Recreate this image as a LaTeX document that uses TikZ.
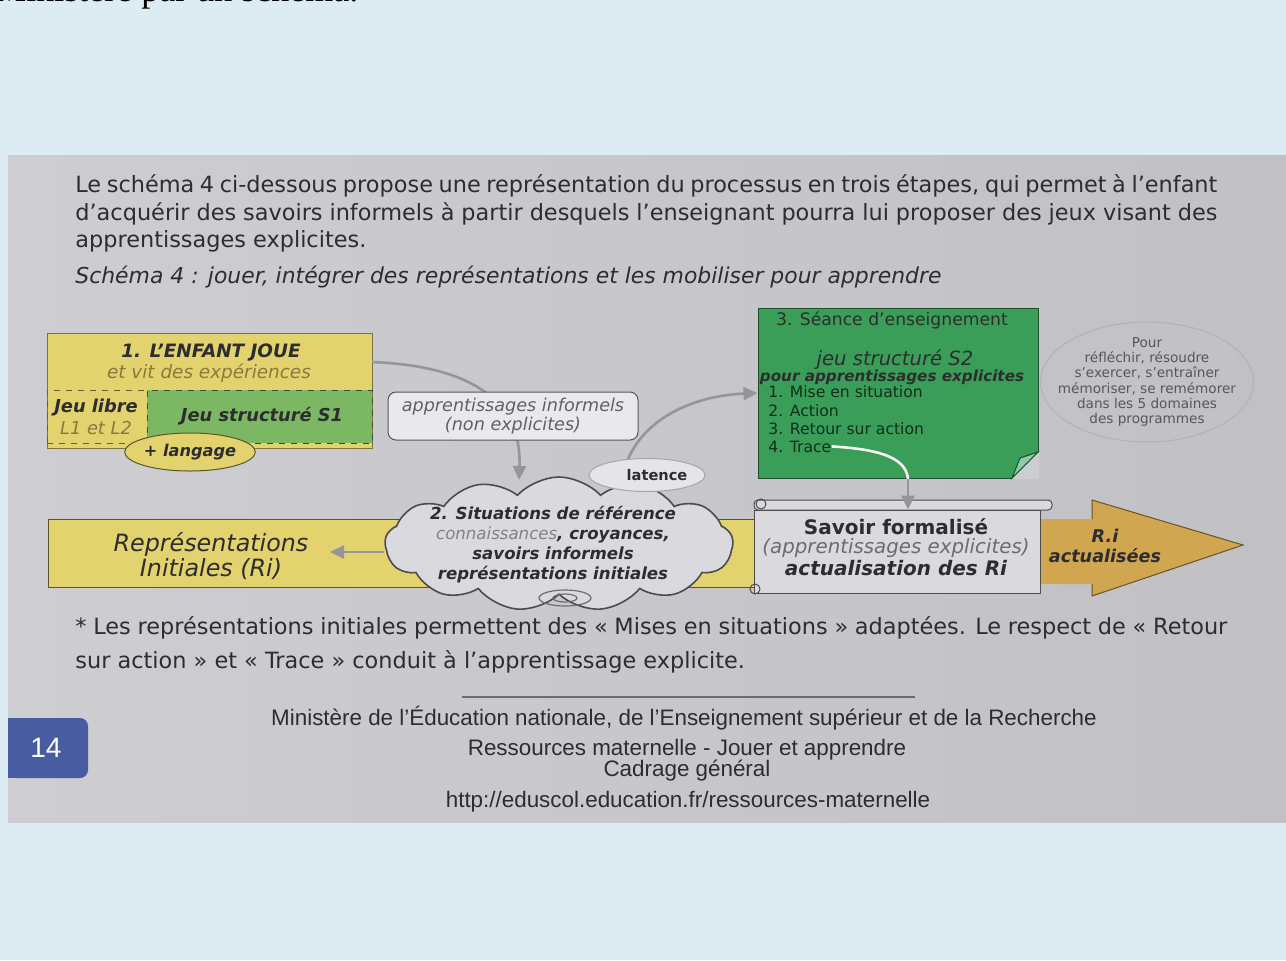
\documentclass[tikz,border=0pt]{standalone}
\usepackage{fontspec}
\setmainfont{Liberation Sans}
\newfontfamily\seriffont{Liberation Serif}
\newfontfamily\diagfont{DejaVu Sans}
\newfontfamily\corpsfont{DejaVu Sans}
\usetikzlibrary{shapes.symbols}
\usetikzlibrary{shapes.geometric}
\usetikzlibrary{arrows.meta}

\definecolor{fond}{RGB}{221,236,243}
\definecolor{pageg}{RGB}{206,206,210}
\definecolor{paged}{RGB}{192,192,197}
\definecolor{jaune}{RGB}{226,211,110}
\definecolor{vertclair}{RGB}{124,184,100}
\definecolor{vertfonce}{RGB}{58,158,88}
\definecolor{orarrow}{RGB}{208,166,80}
\definecolor{encre}{RGB}{45,45,48}
\definecolor{brun}{RGB}{140,120,60}
\definecolor{nuagegris}{RGB}{218,218,222}
\definecolor{flechegris}{RGB}{150,150,154}
\definecolor{bleutab}{RGB}{72,92,162}

\newcommand{\taille}[2]{\fontsize{#1}{#2}\selectfont}

\begin{document}
\begin{tikzpicture}[x=0.5pt, y=-0.5pt,
    txt/.style={inner sep=0pt, text=encre},
    dr/.style={txt, font=\diagfont\taille{#1}{10}},
    di/.style={txt, font=\diagfont\itshape\taille{#1}{10}},
    db/.style={txt, font=\diagfont\bfseries\taille{#1}{10}},
    dbi/.style={txt, font=\diagfont\bfseries\itshape\taille{#1}{10}},
    corps/.style={txt, anchor=base west, font=\corpsfont\taille{11.2}{14}},
    fleche/.style={draw=flechegris, line width=1.3pt, -{Triangle[length=7pt, width=6.5pt]}},
    boite/.style={draw=#1, line width=0.5pt, inner sep=0pt},
  ]
    \useasboundingbox (0,0) rectangle (1286,960);
    \fill[fond] (0,0) rectangle (1286,960);
    \shade[left color=pageg, right color=paged] (8,155) rectangle (1286,822);

    \node[txt, text=black, anchor=base west, font=\seriffont\taille{18}{20}] (haut) at (-6,1) {Ministère par un schéma.};

    % texte d'introduction
    \node[corps] (ligne1) at (75,192)
        {\makebox[571pt][s]{Le schéma 4 ci-dessous propose une représentation du processus en trois étapes, qui permet à l’enfant}};
    \node[corps] (ligne2) at (75,220)
        {\makebox[571pt][s]{d’acquérir des savoirs informels à partir desquels l’enseignant pourra lui proposer des jeux visant des}};
    \node[corps] (ligne3) at (75,247) {apprentissages explicites.};
    \node[corps, font=\corpsfont\itshape\taille{10.95}{14}] (legende) at (75,283)
        {Schéma 4 : jouer, intégrer des représentations et les mobiliser pour apprendre};

    % 1. l'enfant joue
    \node[boite=jaune!55!black, fill=jaune, minimum width=162.5pt, minimum height=57.5pt] (enfant) at (209.5,390.5) {};
    \node[dbi=9.2] (titre1) at (211,353) {1. L’ENFANT JOUE};
    \node[di=9.2, text=brun] (vecu) at (209,373) {et vit des expériences};
    \node[boite=jaune!45!black, dashed, minimum width=50pt, minimum height=26.5pt] (libre) at (97,416.5) {};
    \node[boite=vertclair!45!black, dashed, fill=vertclair, minimum width=112.5pt, minimum height=26.5pt] (s1) at (259.5,416.5) {};
    \node[dbi=8.9] (jeulibre) at (96,408) {Jeu libre};
    \node[di=8.9, text=brun] (langues) at (96,428) {L1 et L2};
    \node[dbi=8.9] (structure1) at (262,416) {Jeu structuré S1};
    \node[ellipse, boite=jaune!40!black, fill=jaune, minimum width=60pt, minimum height=19pt,
          dbi=8.1] (langage) at (190,452) {+ langage};

    % fleches grises
    \coordinate (depart1) at (372,362);
    \coordinate (arrivee1) at (519,480);
    \draw[fleche] (depart1) .. controls (470,366) and (522,400) .. (arrivee1);

    \node[boite=encre!80, rounded corners=4pt, fill=nuagegris!60!white, minimum width=125pt, minimum height=24pt,
          txt, text=encre!75, align=center, font=\diagfont\itshape\taille{8.8}{8.2}] (informels) at (513,416)
          {apprentissages informels\\(non explicites)};

    % bande jaune et fleche doree
    \node[boite=jaune!40!black, fill=jaune, minimum width=496pt, minimum height=34pt] (bande) at (544,553) {};
    \fill[orarrow] (1040,519) -- (1092,519) -- (1092,500) -- (1243,545) -- (1092,596) -- (1092,584) -- (1040,584) -- cycle;
    \draw[orarrow!50!black, line width=0.5pt] (1092,519) -- (1092,500) -- (1243,545) -- (1092,596) -- (1092,584);
    \node[txt, align=center, font=\diagfont\bfseries\itshape\taille{8.8}{10}] (actualisees) at (1105,546) {R.i\\actualisées};
    \node[txt, align=center, font=\diagfont\itshape\taille{11.9}{12.5}] (represent) at (211,556) {Représentations\\Initiales (Ri)};

    % 2. situations de reference
    \node[cloud, cloud puffs=13, cloud puff arc=95, cloud ignores aspect, boite=encre!85, line width=0.8pt,
          fill=nuagegris, minimum width=174pt, minimum height=67pt] (nuage) at (559,544) {};
    \node[txt, align=center, font=\diagfont\bfseries\itshape\taille{8.3}{10}] (situations) at (553,545)
        {2. Situations de référence\\{\mdseries\color{encre!60}connaissances}, croyances,\\savoirs informels\\représentations initiales};
    \node[ellipse, boite=gray!70, fill=nuagegris!70!white, minimum width=58pt, minimum height=16.5pt,
          db=7.3] (latence) at (647,475) {\hspace*{10pt}latence};
    \draw[encre!70, line width=0.6pt] (565,598) ellipse [x radius=13pt, y radius=4pt];
    \draw[encre!70, line width=0.6pt] (565,598) ellipse [x radius=6pt, y radius=2pt];

    \coordinate (pointe) at (330,552);
    \draw[fleche] (nuage.west |- pointe) -- (pointe);

    % 3. seance d'enseignement
    \node[boite=vertfonce!50!black, fill=vertfonce, minimum width=140pt, minimum height=85pt] (seance) at (898,393) {};
    \fill[pageg] (1012,479) -- (1039,452) -- (1039,479) -- cycle;
    \draw[vertfonce!50!black, fill=vertfonce!55!white, line width=0.5pt] (1012,478) -- (1038,452) -- (1020,458) -- cycle;
    \node[dr=8.6] (titre3) at (892,320) {3. Séance d’enseignement};
    \node[di=9.8] (structure2) at (895,360) {jeu structuré S2};
    \node[dbi=7.6] (explicites) at (892,377) {pour apprentissages explicites};
    \node[dr=7.8, text=vertfonce!30!black, anchor=base west] (mise) at (768,397) {1. Mise en situation};
    \node[dr=7.8, text=vertfonce!30!black, anchor=base west] (action) at (768,416) {2. Action};
    \node[dr=7.8, text=vertfonce!30!black, anchor=base west] (retour) at (768,434) {3. Retour sur action};
    \node[dr=7.8, text=vertfonce!30!black, anchor=base west] (trace) at (768,452) {4. Trace};

    \coordinate (depart2) at (628,459);
    \draw[fleche] (depart2) .. controls (645,420) and (690,396) .. (seance.west);

    \node[ellipse, boite=gray!60, minimum width=106.5pt, minimum height=60pt] (pour) at (1147,382) {};
    \node[txt, text=encre!80, align=center, font=\diagfont\taille{6.8}{7.6}] (pourtexte) at (pour.center)
          {Pour\\réfléchir, résoudre\\s’exercer, s’entraîner\\mémoriser, se remémorer\\dans les 5 domaines\\des programmes};

    % savoir formalise
    \node[boite=encre!85, fill=nuagegris, minimum width=143pt, minimum height=41.5pt] (savoir) at (897,551.5) {};
    \draw[encre!85, fill=nuagegris, line width=0.5pt, rounded corners=2pt] (754,500) rectangle (1052,510);
    \draw[encre!85, line width=0.5pt] (761,504) circle [radius=2.5pt];
    \draw[encre!85, line width=0.5pt] (755,589) circle [radius=2.5pt];
    \node[db=10] (formalise) at (896,527) {Savoir formalisé};
    \node[di=9.9, text=encre!70] (appexpl) at (896,548) {(apprentissages explicites)};
    \node[dbi=10] (actualisation) at (896,568) {actualisation des Ri};

    \coordinate (coude) at (908,479);
    \draw[white!92!gray, line width=1.3pt] (trace.east) .. controls (875,449) and (906,456) .. (coude);
    \draw[fleche] (coude) -- (savoir.north -| coude);

    % note
    \node[corps] (note1) at (75,634)
        {\makebox[576pt][s]{* Les représentations initiales permettent des «~Mises en situations~» adaptées. Le respect de «~Retour}};
    \node[corps] (note2) at (75,668)
        {sur action~» et «~Trace~» conduit à l’apprentissage explicite.};

    % pied de page
    \draw[encre!70, line width=0.8pt] (462,697) -- (915,697);
    \node[txt, font=\taille{11.2}{12}] (ministere) at (684,718)
        {Ministère de l’Éducation nationale, de l’Enseignement supérieur et de la Recherche};
    \node[txt, font=\taille{11.2}{12}] (ressources) at (687,750) {Ressources maternelle - Jouer et apprendre};
    \node[txt, font=\taille{11.2}{12}] (cadrage) at (687,771) {Cadrage général};
    \node[txt, font=\taille{11.2}{12}] (url) at (688,802) {http://eduscol.education.fr/ressources-maternelle};

    \fill[bleutab, rounded corners=4pt] (8,718) rectangle (88,778);
    \fill[bleutab] (8,718) rectangle (20,778);
    \node[txt, text=white, font=\taille{14}{16}] (numero) at (46,748) {14};
\end{tikzpicture}
\end{document}
